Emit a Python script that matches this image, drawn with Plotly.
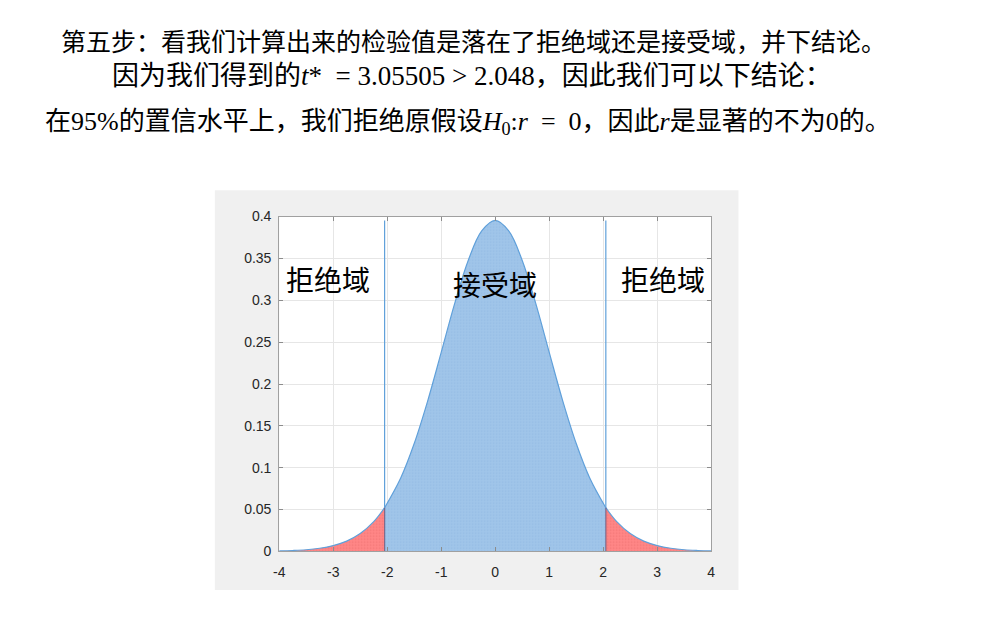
import plotly.graph_objects as go

# ---- data (t distribution pdf) ----
x_vals = [-4.0, -3.75, -3.5, -3.25, -3.0, -2.75, -2.5, -2.25, -2.0, -1.75, -1.5, -1.25, -1.0,
          -0.75, -0.5, -0.25, 0.0, 0.25, 0.5, 0.75, 1.0, 1.25, 1.5, 1.75, 2.0, 2.25, 2.5,
          2.75, 3.0, 3.25, 3.5, 3.75, 4.0]
pdf_vals = [0.0006, 0.0011, 0.0020, 0.0038, 0.0070, 0.0123, 0.0213, 0.0355, 0.0570, 0.0878,
            0.1289, 0.1799, 0.2377, 0.2963, 0.3476, 0.3828, 0.3954, 0.3828, 0.3476, 0.2963,
            0.2377, 0.1799, 0.1289, 0.0878, 0.0570, 0.0355, 0.0213, 0.0123, 0.0070, 0.0038,
            0.0020, 0.0011, 0.0006]
t_crit = 2.048
pdf_crit = 0.0522
pdf_peak = 0.3954

x_ticks = [-4, -3, -2, -1, 0, 1, 2, 3, 4]
y_ticks = [0, 0.05, 0.1, 0.15, 0.2, 0.25, 0.3, 0.35, 0.4]
y_tick_text = ["0", "0.05", "0.1", "0.15", "0.2", "0.25", "0.3", "0.35", "0.4"]

region_labels = ["拒绝域", "接受域", "拒绝域"]
region_label_x = [-3.1, 0.0, 3.1]
region_label_y = [0.325, 0.32, 0.325]

line1 = "第五步：看我们计算出来的检验值是落在了拒绝域还是接受域，并下结论。"
line2 = "因为我们得到的<i>t</i>*  = 3.05505 > 2.048，因此我们可以下结论："
line3 = "在95%的置信水平上，我们拒绝原假设<i>H</i><sub>0</sub>:<i>r</i>  =  0，因此<i>r</i>是显著的不为0的。"

W, H = 983, 633

def px_x(p):
    return p / W

def px_y(p):
    return 1 - p / H

# split into regions
gap = 0.1
left_x = [x for x in x_vals if x < -t_crit - gap] + [-t_crit]
left_y = [y for x, y in zip(x_vals, pdf_vals) if x < -t_crit - gap] + [pdf_crit]
mid_x = [-t_crit] + [x for x in x_vals if -t_crit + gap < x < t_crit - gap] + [t_crit]
mid_y = [pdf_crit] + [y for x, y in zip(x_vals, pdf_vals) if -t_crit + gap < x < t_crit - gap] + [pdf_crit]
right_x = [t_crit] + [x for x in x_vals if x > t_crit + gap]
right_y = [pdf_crit] + [y for x, y in zip(x_vals, pdf_vals) if x > t_crit + gap]

curve_color = "rgb(96,160,218)"
blue_fill = "rgb(160,197,233)"
red_fill = "rgb(255,135,135)"

fig = go.Figure()

for xs, ys, fc, pc in [(left_x, left_y, red_fill, "rgb(230,100,100)"),
                       (mid_x, mid_y, blue_fill, "rgb(135,178,222)"),
                       (right_x, right_y, red_fill, "rgb(230,100,100)")]:
    fig.add_trace(go.Scatter(
        x=xs, y=ys, mode="lines", line=dict(color=curve_color, width=1.2, shape="spline"),
        fill="tozeroy", fillcolor=fc,
        fillpattern=dict(shape=".", bgcolor=fc, fgcolor=pc, size=3, solidity=0.25),
        hoverinfo="skip", showlegend=False))

# vertical critical lines
for xc in [-t_crit, t_crit]:
    fig.add_trace(go.Scatter(x=[xc, xc], y=[pdf_crit, pdf_peak], mode="lines",
                             line=dict(color=curve_color, width=1.2),
                             hoverinfo="skip", showlegend=False))
    fig.add_trace(go.Scatter(x=[xc, xc], y=[0, pdf_crit], mode="lines",
                             line=dict(color="rgba(90,70,110,0.7)", width=1.2),
                             hoverinfo="skip", showlegend=False))

# region labels
for txt, lx, ly in zip(region_labels, region_label_x, region_label_y):
    fig.add_annotation(x=lx, y=ly, xref="x", yref="y", text=txt, showarrow=False,
                       font=dict(family="Noto Sans CJK SC", size=28, color="#000000"),
                       xanchor="center", yanchor="middle")

# top text
text_font = "Liberation Serif, Noto Sans CJK SC"
for txt, cx, cy, fs in [(line1, 472, 35, 25), (line2, 471, 70, 27), (line3, 467, 118, 26)]:
    fig.add_annotation(x=px_x(cx), y=px_y(cy), xref="paper", yref="paper", text=txt,
                       showarrow=False, xanchor="center", yanchor="middle",
                       font=dict(family=text_font, size=fs, color="#000000"))

# grey figure panel and white axes box
fig.add_shape(type="rect", xref="paper", yref="paper",
              x0=px_x(211), x1=px_x(740), y0=px_y(597), y1=px_y(187),
              fillcolor="#f0f0f0", line=dict(width=0), layer="below")
fig.add_shape(type="rect", xref="paper", yref="paper",
              x0=px_x(276), x1=px_x(712.5), y0=px_y(557.5), y1=px_y(214),
              fillcolor="#ffffff", line=dict(width=0), layer="below")

axis_common = dict(showline=True, linecolor="#a0a0a0", linewidth=1, mirror="ticks",
                   ticks="inside", ticklen=4, tickcolor="#8c8c8c",
                   showgrid=True, gridcolor="#e6e6e6", gridwidth=1, zeroline=False,
                   tickfont=dict(family="Liberation Sans", size=14, color="#262626"))

fig.update_layout(
    width=W, height=H,
    margin=dict(l=0, r=0, t=0, b=0),
    paper_bgcolor="#ffffff",
    plot_bgcolor="rgba(0,0,0,0)",
    xaxis=dict(domain=[px_x(276), px_x(712.5)], range=[-4, 4], tickvals=x_ticks,
               ticktext=[str(v) for v in x_ticks], ticklabelstandoff=8, **axis_common),
    yaxis=dict(domain=[px_y(557.5), px_y(214)], range=[0, 0.4], tickvals=y_ticks,
               ticktext=y_tick_text, ticklabelstandoff=4, **axis_common),
)

fig.write_html("out.html")
